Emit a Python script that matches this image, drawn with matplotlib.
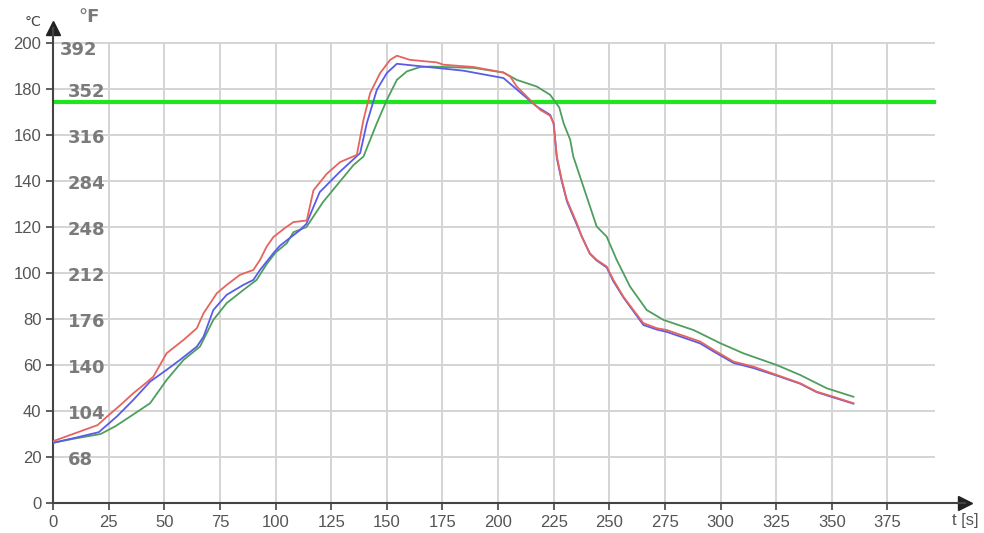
import matplotlib.pyplot as plt
import numpy as np

# temperature curves (t in s, T in degC)
t_red = [0, 10, 20, 24, 30, 36, 40.6, 45, 51, 58.6, 64.6, 67.6, 73.6, 78, 84, 90, 93, 96, 99, 104, 108,
         114, 117, 123, 129, 136.5, 139.5, 142.5, 147, 151.5, 154.5, 160.4, 172.4, 175.4, 189, 202.4,
         205.4, 208.4, 214.4, 218.9, 223.4, 224.9, 226.4, 228.6, 230.9, 235.4, 237.6, 241.2, 244.3,
         248.8, 251.8, 256.3, 260.8, 265.3, 271.3, 275.8, 290.8, 296.8, 305.8, 314.7, 325.2, 335.7,
         343.2, 350.7, 359.7]
T_red = [27, 30.5, 34, 37.5, 42.5, 47.8, 51.4, 55, 65.2, 71, 76.1, 82.6, 91.3, 94.9, 99.3, 101.4, 105.8,
         111.6, 115.7, 119.5, 122.2, 122.9, 136, 143.2, 148.3, 151.4, 166.7, 178.3, 187, 192.7, 194.5,
         192.7, 191.6, 190.6, 189.6, 187.2, 185.5, 181.1, 175.3, 171, 168.4, 165.2, 150.7, 140.6, 131.9,
         121.7, 115.9, 108.7, 105.8, 102.9, 97.1, 89.8, 84, 78.3, 76.1, 75.3, 70.3, 66.7, 61.6, 59.4,
         55.8, 52.2, 48.5, 46.3, 43.5]

t_blue = [0, 10, 20.5, 28.6, 36, 43.6, 51, 57, 64.6, 67.6, 72, 78, 85.5, 90, 93, 99, 102, 110.8, 113.8,
          119.8, 128.7, 138, 141, 145.5, 150, 154.5, 166.4, 184.4, 202.4, 206.9, 217.4, 223.4, 225,
          226.4, 228.6, 231, 235.4, 237.6, 241.2, 244.3, 248.8, 251.8, 256.3, 260.8, 265.3, 271.3,
          275.8, 290.8, 296.8, 305.8, 314.7, 325.2, 335.7, 343.2, 350.7, 359.7]
T_blue = [26.3, 28.5, 30.9, 37.7, 44.9, 52.9, 58, 62.3, 68.1, 72.4, 84, 90.6, 94.9, 97.1, 101.4, 108.7,
          112, 118.6, 121.4, 135.2, 143.9, 152.2, 165.2, 179.7, 187, 191, 189.8, 188, 184.8, 181.1,
          172.4, 168.8, 165, 150, 140, 131, 121, 116, 108.5, 105.5, 102.5, 96.5, 89.5, 83.5, 77.5,
          75.5, 74.5, 69.5, 66, 61, 58.8, 55.5, 52, 48.3, 46, 43.3]

t_green = [0, 10, 21.3, 28, 34.6, 43.6, 51, 58.6, 66, 72, 78, 85.5, 91.5, 96, 100, 105, 108, 113.8,
           121.3, 128.7, 135, 139.5, 145.5, 150, 154.5, 159, 165, 169.5, 189, 202.4, 208.4, 217.4,
           223.4, 227.5, 229.5, 232.4, 233.8, 238.3, 244.3, 248.8, 253.3, 259.3, 266.8, 274.3, 287.8,
           290.8, 299.8, 310.2, 325.2, 335.7, 347.7, 359.7]
T_green = [26.3, 28.2, 30.1, 33.5, 37.7, 43.5, 53.6, 62.3, 68.1, 79.7, 87, 92.7, 97.1, 104, 109, 113,
           117.8, 120, 130.9, 139.6, 147, 150.7, 165.2, 175.3, 184, 187.7, 189.6, 189.8, 189.2, 187.2,
           184, 181.1, 177.5, 172, 165, 158, 150.7, 137.7, 120.3, 115.9, 105.8, 94.2, 84, 79.7, 75.3,
           73.9, 69.6, 65.2, 60.1, 55.8, 50, 46.3]

limit_C = 174.5
x_ticks = list(range(0, 400, 25))
y_ticks = list(range(0, 220, 20))
f_labels = ["68", "104", "140", "176", "212", "248", "284", "316", "352", "392"]

fig = plt.figure(figsize=(9.84, 5.33), dpi=100)
ax = fig.add_axes([0.054, 0.0557, 0.927, 0.892])
ax.set_xlim(0, 410)
ax.set_ylim(0, 206.6)

# grid, limited to the chart area
grid_c = '#d4d4d4'
for x in x_ticks[1:]:
    ax.plot([x, x], [0, 200], color=grid_c, lw=1.4, zorder=1)
for y in y_ticks[1:]:
    ax.plot([0, 396], [y, y], color=grid_c, lw=1.4, zorder=1)

ax.plot([0, 396], [limit_C, limit_C], color='#1ee61e', lw=3, zorder=2)

ax.plot(t_green, T_green, color='#4f9e5f', lw=1.3, zorder=3)
ax.plot(t_blue, T_blue, color='#5b5bea', lw=1.3, zorder=4)
ax.plot(t_red, T_red, color='#e5645e', lw=1.3, zorder=5)

# axes with arrows
for s in ['top', 'right']:
    ax.spines[s].set_visible(False)
for s in ['left', 'bottom']:
    ax.spines[s].set_color('#444444')
    ax.spines[s].set_linewidth(1.5)
ax.plot(1, 0, '>', color='#222222', ms=10, transform=ax.transAxes, clip_on=False)
ax.plot(0, 1, '^', color='#222222', ms=10, transform=ax.transAxes, clip_on=False)

ax.set_xticks(x_ticks)
ax.set_yticks(y_ticks)
ax.tick_params(colors='#444444', labelcolor='#555555', labelsize=12, length=5, width=1.2)
for lab in ax.get_xticklabels() + ax.get_yticklabels():
    lab.set_family('Liberation Sans')

# Fahrenheit labels inside the plot
for c, f in zip(y_ticks[1:], f_labels):
    xpos = 3 if f == "392" else 6.5
    dy = 3 if f == "392" else 1.2
    ax.text(xpos, c - dy, f, color='#7a7a7a', fontsize=13, fontweight='bold', va='center', ha='left')

fig.text(33 / 984, 1 - 22 / 533, '°C', color='#444444', fontsize=10, ha='center', va='center')
fig.text(89 / 984, 1 - 17 / 533, '°F', color='#7a7a7a', fontsize=13, fontweight='bold',
         ha='center', va='center')
fig.text(965 / 984, 1 - 521 / 533, 't [s]', color='#555555', fontsize=12, ha='center', va='center',
         family='Liberation Sans')

fig.savefig('out.png', dpi=100)
